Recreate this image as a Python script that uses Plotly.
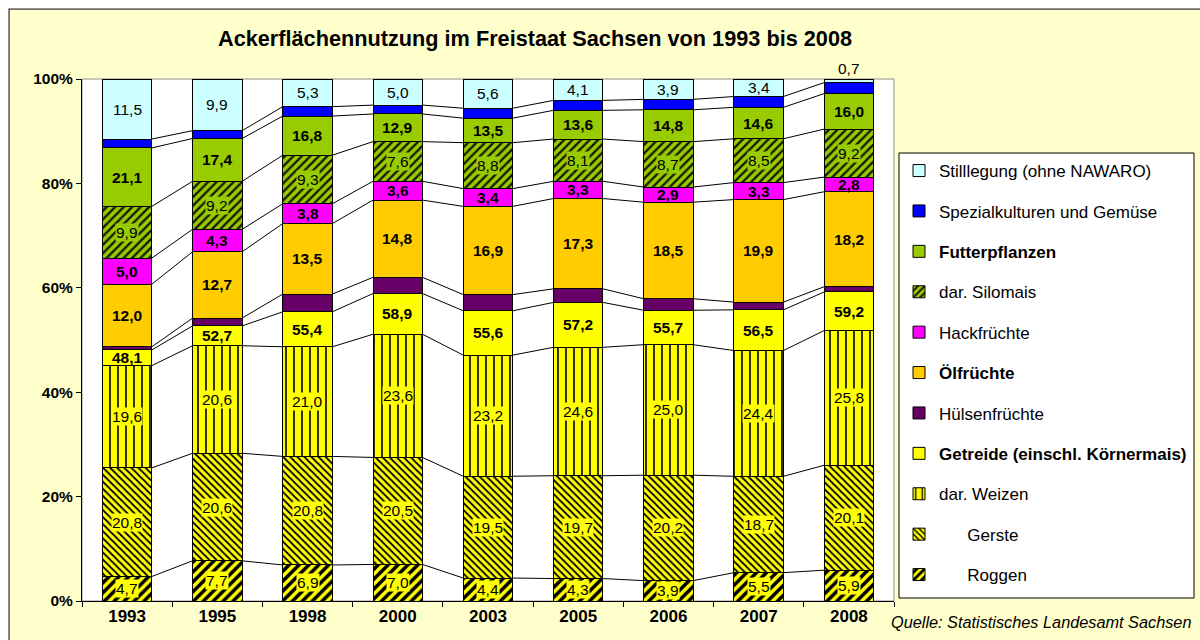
import plotly.graph_objects as go

# Ackerflächennutzung in Sachsen, Anteile in % der Ackerfläche
years = ["1993", "1995", "1998", "2000", "2003", "2005", "2006", "2007", "2008"]

roggen = [4.7, 7.7, 6.9, 7.0, 4.4, 4.3, 3.9, 5.5, 5.9]
gerste = [20.8, 20.6, 20.8, 20.5, 19.5, 19.7, 20.2, 18.7, 20.1]
weizen = [19.6, 20.6, 21.0, 23.6, 23.2, 24.6, 25.0, 24.4, 25.8]
getreide = [48.1, 52.7, 55.4, 58.9, 55.6, 57.2, 55.7, 56.5, 59.2]
huelsen = [0.6, 1.5, 3.4, 3.1, 3.1, 2.6, 2.2, 1.5, 1.0]
oel = [12.0, 12.7, 13.5, 14.8, 16.9, 17.3, 18.5, 19.9, 18.2]
hack = [5.0, 4.3, 3.8, 3.6, 3.4, 3.3, 2.9, 3.3, 2.8]
silomais = [9.9, 9.2, 9.3, 7.6, 8.8, 8.1, 8.7, 8.5, 9.2]
futter = [21.1, 17.4, 16.8, 12.9, 13.5, 13.6, 14.8, 14.6, 16.0]
spezial = [1.7, 1.5, 1.8, 1.7, 1.9, 1.9, 2.0, 2.1, 2.1]
stilllegung = [11.5, 9.9, 5.3, 5.0, 5.6, 4.1, 3.9, 3.4, 0.7]

# Restflächen der Obergruppen (Getreide ohne Roggen/Gerste/Weizen, Futter ohne Silomais)
getreide_rest = [round(g - r - ge - w, 1) for g, r, ge, w in zip(getreide, roggen, gerste, weizen)]
futter_rest = [round(f - s, 1) for f, s in zip(futter, silomais)]

FONT = "Liberation Sans, Arial, sans-serif"
W, H = 1200, 640
L, R, T, B = 82, 306, 79, 39
PW, PH = W - L - R, H - T - B
BARW = 0.549

def px_x(px):
    return (px - L) / PW

def px_y(py):
    return (H - B - py) / PH

def fmt(v):
    return f"{v:.1f}".replace(".", ",")

# stack order bottom -> top: (name, values, fill, pattern, label values, bold, label bg)
series = [
    ("\u00a0" * 6 + "Roggen", roggen, "#FFFF00",
     dict(shape="/", fgcolor="black", bgcolor="#FFFF00", size=7, solidity=0.5), roggen, False, "#FFFF00"),
    ("\u00a0" * 6 + "Gerste", gerste, "#FFFF00",
     dict(shape="\\", fgcolor="black", bgcolor="#FFFF00", size=5, solidity=0.35), gerste, False, "#FFFF00"),
    ("dar. Weizen", weizen, "#FFFF00",
     dict(shape="|", fgcolor="black", bgcolor="#FFFF00", size=8, solidity=0.2), weizen, False, "#FFFF00"),
    ("<b>Getreide (einschl. Körnermais)</b>", getreide_rest, "#FFFF00", None, getreide, True, None),
    ("Hülsenfrüchte", huelsen, "#660066", None, None, False, None),
    ("<b>Ölfrüchte</b>", oel, "#FFCC00", None, oel, True, None),
    ("Hackfrüchte", hack, "#FF00FF", None, hack, True, None),
    ("dar. Silomais", silomais, "#99CC00",
     dict(shape="/", fgcolor="#1a1a00", bgcolor="#99CC00", size=6, solidity=0.4), silomais, False, "#99CC00"),
    ("<b>Futterpflanzen</b>", futter_rest, "#99CC00", None, futter, True, None),
    ("Spezialkulturen und Gemüse", spezial, "#0000FF", None, None, False, None),
    ("Stilllegung (ohne NAWARO)", stilllegung, "#CCFFFF", None, stilllegung, False, None),
]

n = len(years)
xs = list(range(n))
totals = [sum(s[1][i] for s in series) for i in range(n)]

fig = go.Figure()
for k, (name, vals, color, pat, labels, bold, lbg) in enumerate(series):
    marker = dict(color=color, line=dict(color="black", width=1))
    if pat:
        marker["pattern"] = dict(fillmode="replace", **pat)
    fig.add_trace(go.Bar(
        x=xs, y=vals, name=name, width=BARW, marker=marker,
        legendgroup=f"g{k}", legendrank=100 - k, hoverinfo="skip",
    ))

# cumulative shares (normalised to 100 %) for connector lines and labels
cum = []
for i in range(n):
    acc, row = 0.0, [0.0]
    for s in series:
        acc += s[1][i] / totals[i] * 100
        row.append(acc)
    cum.append(row)

for k in range(1, len(series)):
    lx, ly = [], []
    for i in range(n - 1):
        lx += [i + BARW / 2, i + 1 - BARW / 2, None]
        ly += [cum[i][k], cum[i + 1][k], None]
    fig.add_trace(go.Scatter(x=lx, y=ly, mode="lines", line=dict(color="black", width=1),
                             showlegend=False, hoverinfo="skip"))

annotations = []
for k, (name, vals, color, pat, labels, bold, lbg) in enumerate(series):
    if labels is None:
        continue
    for i in range(n):
        mid = (cum[i][k] + cum[i][k + 1]) / 2
        a = dict(x=i, y=mid, xref="x", yref="y", text=fmt(labels[i]), showarrow=False,
                 font=dict(family=FONT, size=15.5, color="black", weight="bold" if bold else "normal"),
                 xanchor="center", yanchor="middle", borderpad=0)
        if lbg:
            a["bgcolor"] = lbg
        if k == len(series) - 1 and vals[i] < 2:
            a.update(y=100, yanchor="bottom", yshift=1)
        annotations.append(a)

annotations.append(dict(
    x=px_x(1193), y=px_y(622), xref="paper", yref="paper", xanchor="right", yanchor="middle",
    text="<i>Quelle: Statistisches Landesamt Sachsen</i>", showarrow=False,
    font=dict(family=FONT, size=16.3, color="black")))

shapes = [
    # outer frame of the chart area
    dict(type="rect", xref="paper", yref="paper", x0=px_x(9), x1=px_x(1230), y0=px_y(680), y1=px_y(9),
         line=dict(color="#404040", width=1.5), fillcolor="rgba(0,0,0,0)", layer="below"),
    # white plot area with grey border
    dict(type="rect", xref="paper", yref="paper", x0=0, x1=1, y0=0, y1=1,
         line=dict(color="#909090", width=1), fillcolor="white", layer="below"),
    # legend box
    dict(type="rect", xref="paper", yref="paper", x0=px_x(899), x1=px_x(1194), y0=px_y(598), y1=px_y(153),
         line=dict(color="black", width=1), fillcolor="white", layer="below"),
    # white margin outside the frame
    dict(type="rect", xref="paper", yref="paper", x0=px_x(-5), x1=px_x(1230), y0=px_y(8.2), y1=px_y(-5),
         line=dict(width=0), fillcolor="white", layer="below"),
    dict(type="rect", xref="paper", yref="paper", x0=px_x(-5), x1=px_x(8.2), y0=px_y(680), y1=px_y(-5),
         line=dict(width=0), fillcolor="white", layer="below"),
]

fig.update_layout(
    width=W, height=H,
    margin=dict(l=L, r=R, t=T, b=B, pad=0, autoexpand=False),
    barmode="stack", barnorm="percent",
    paper_bgcolor="#FFFFCC", plot_bgcolor="white",
    font=dict(family=FONT, color="black"),
    title=dict(text="Ackerflächennutzung im Freistaat Sachsen von 1993 bis 2008",
               x=535 / W, xanchor="center", xref="container",
               y=1 - 38 / H, yanchor="middle", yref="container",
               font=dict(family=FONT, size=21.7, color="black", weight="bold")),
    xaxis=dict(range=[-0.5, n - 0.5], tickvals=xs, ticktext=years, ticks="",
               showline=True, linecolor="black", linewidth=1, showgrid=False, zeroline=False,
               tickfont=dict(family=FONT, size=17, color="black", weight="bold"),
               minor=dict(tickvals=[i - 0.5 for i in range(n + 1)], ticks="outside", ticklen=5,
                          tickcolor="black", tickwidth=1, showgrid=False)),
    yaxis=dict(range=[0, 100], tickvals=[0, 20, 40, 60, 80, 100],
               ticktext=["0%", "20%", "40%", "60%", "80%", "100%"],
               ticks="outside", ticklen=5, tickcolor="black", showline=True, linecolor="black",
               linewidth=1, showgrid=False, zeroline=False,
               tickfont=dict(family=FONT, size=15.5, color="black", weight="bold")),
    legend=dict(x=px_x(899), y=px_y(153), xanchor="left", yanchor="top",
                bgcolor="rgba(0,0,0,0)", borderwidth=0, traceorder="grouped",
                tracegroupgap=15.3, font=dict(family=FONT, size=17, color="black")),
    annotations=annotations,
    shapes=shapes,
)

fig.write_html("out.html")
